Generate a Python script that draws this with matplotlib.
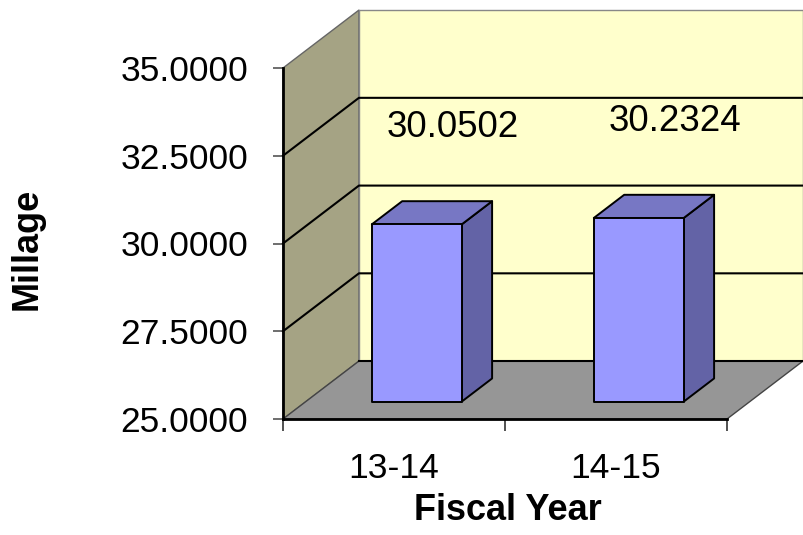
import matplotlib
matplotlib.use("Agg")
import matplotlib.pyplot as plt
from matplotlib.patches import Polygon
import numpy as np

plt.rcParams['font.family'] = ['Liberation Sans', 'DejaVu Sans']

# data
fiscal_years = ["13-14", "14-15"]
millage = [30.0502, 30.2324]
y_ticks = [25.0, 27.5, 30.0, 32.5, 35.0]
y_min, y_max = 25.0, 35.0

# pseudo-3D projection: depth offset in data units
DX, DY = 0.342, 1.65
BAR_W = 0.405
D0, D1 = 0.3, 0.7          # bar depth range (fraction of floor depth)

c_left = "#A5A384"
c_back = "#FFFFCC"
c_floor = "#969696"
c_front = "#9999FF"
c_top = "#7777C4"
c_side = "#6363A6"

W, H = 804, 535
fig = plt.figure(figsize=(W / 100, H / 100), dpi=100)
ax = fig.add_axes([283 / W, (H - 419) / H, 444 / W, 351 / H])
ax.set_xlim(-0.5, 1.5)
ax.set_ylim(y_min, y_max)
ax.set_facecolor("none")
for s in ax.spines.values():
    s.set_visible(False)


def proj(x, y, d):
    return (x + d * DX, y + d * DY)


def poly(pts, fc, ec="black", lw=1.4, z=1, **kw):
    p = Polygon(pts, closed=True, facecolor=fc, edgecolor=ec, lw=lw,
                zorder=z, clip_on=False, joinstyle="round", **kw)
    ax.add_patch(p)


x0, x1 = -0.5, 1.5
# walls and floor
poly([proj(x0, y_min, 0), proj(x0, y_min, 1), proj(x0, y_max, 1), proj(x0, y_max, 0)],
     c_left, ec="#666666", lw=1.0, z=1)
poly([proj(x0, y_min, 1), proj(x1, y_min, 1), proj(x1, y_max, 1), proj(x0, y_max, 1)],
     c_back, ec="#888888", lw=1.0, z=1)
poly([proj(x0, y_min, 0), proj(x1, y_min, 0), proj(x1, y_min, 1), proj(x0, y_min, 1)],
     c_floor, ec="#444444", lw=1.0, z=2)

# gridlines on left and back walls
for v in y_ticks[1:-1]:
    xs = [proj(x0, v, 0)[0], proj(x0, v, 1)[0], proj(x1, v, 1)[0]]
    ys = [proj(x0, v, 0)[1], proj(x0, v, 1)[1], proj(x1, v, 1)[1]]
    ax.plot(xs, ys, color="black", lw=1.5, zorder=3, clip_on=False)
# floor back edge and front edge
ax.plot([proj(x0, y_min, 1)[0], proj(x1, y_min, 1)[0]],
        [proj(x0, y_min, 1)[1], proj(x1, y_min, 1)[1]], color="black", lw=1.5,
        zorder=3, clip_on=False)
ax.plot([x0, x1], [y_min, y_min], color="black", lw=2.0, zorder=6, clip_on=False)
ax.plot([x0, x0], [y_min, y_max], color="black", lw=2.0, zorder=6, clip_on=False)

# bars
for i, v in enumerate(millage):
    xl, xr = i - BAR_W / 2, i + BAR_W / 2
    front = [proj(xl, y_min, D0), proj(xr, y_min, D0), proj(xr, v, D0), proj(xl, v, D0)]
    top = [proj(xl, v, D0), proj(xr, v, D0), proj(xr, v, D1), proj(xl, v, D1)]
    side = [proj(xr, y_min, D0), proj(xr, y_min, D1), proj(xr, v, D1), proj(xr, v, D0)]
    poly(side, c_side, z=4)
    poly(top, c_top, z=4)
    poly(front, c_front, z=5)
    ax.text(i + 0.265, v + 3.25, f"{v:.4f}", ha="center", va="center",
            fontsize=26.5, zorder=7)

# axes ticks and labels
ax.set_yticks(y_ticks)
ax.set_yticklabels([f"{t:.4f}" for t in y_ticks])
ax.tick_params(axis="y", direction="out", length=7.2, width=1.2, color="#555555",
               labelsize=25.5, pad=18)
ax.set_xticks([-0.5, 0.5, 1.5])
ax.set_xticklabels([])
ax.set_xticks([0, 1], minor=True)
ax.set_xticklabels(fiscal_years, minor=True)
ax.tick_params(axis="x", which="major", direction="out", length=8.6, width=1.2,
               color="#333333")
ax.tick_params(axis="x", which="minor", length=0, labelsize=25.5, pad=24)

ax.set_xlabel("Fiscal Year", fontsize=26, fontweight="bold")
ax.set_ylabel("Millage", fontsize=26, fontweight="bold")
ax.yaxis.set_label_coords(-(283 - 45) / 444, (419 - 249) / 351)
ax.xaxis.set_label_coords((508 - 283) / 444, -(493 - 419) / 351)

fig.savefig("out.png", dpi=100)
